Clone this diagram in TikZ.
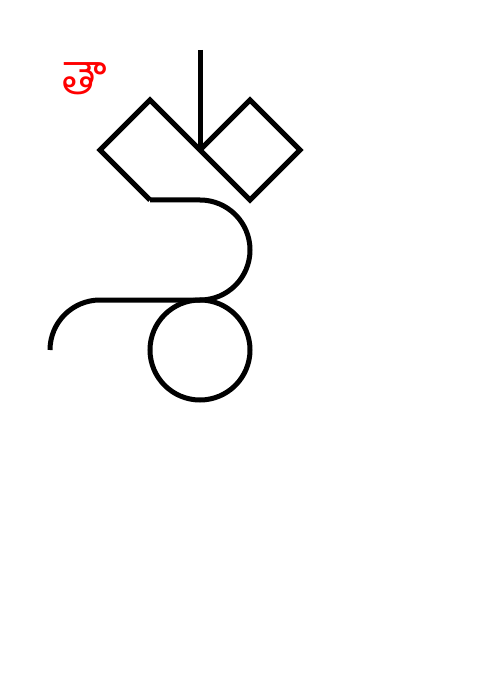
\documentclass[tikz,border=0pt]{standalone}
\usepackage{fontspec}
\newfontfamily\telugufont[Script=Telugu]{Hind Guntur}
\usepackage{tikz}

\begin{document}
\begin{tikzpicture}[
    x=1pt, y=-1pt,
    glyph/.style={draw=black,line width=5pt},
    glabel/.style={text=red,inner sep=0pt,font=\telugufont\fontsize{44}{44}\selectfont},
  ]
  \useasboundingbox (0,0) rectangle (500,700);

  % anchor points of the figure
  \coordinate (stemtop) at (200,50);
  \coordinate (mid)     at (200,150);
  \coordinate (ltop)    at (150,100);
  \coordinate (lleft)   at (100,150);
  \coordinate (lbot)    at (150,200);
  \coordinate (rtop)    at (250,100);
  \coordinate (rright)  at (300,150);
  \coordinate (rbot)    at (250,200);
  \coordinate (hook)    at (200,200);
  \coordinate (tail)    at (100,300);

  % label
  \node[glabel] (name) at (85,79) {తౌ};

  % stem and the two diamonds
  \draw[glyph] (stemtop) -- (mid);
  \draw[glyph] (lbot) -- (lleft) -- (ltop) -- (mid) -- (rtop) -- (rright) -- (rbot) -- (mid);

  % the s-shaped bend below
  \draw[glyph] (lbot) -- (hook) arc[start angle=-90,end angle=90,radius=50]
    -- (tail) arc[start angle=-90,end angle=-180,radius=50];

  % ring
  \node[glyph,circle,minimum size=100pt,inner sep=0pt,outer sep=0pt] (ring) at (200,350) {};
\end{tikzpicture}
\end{document}
